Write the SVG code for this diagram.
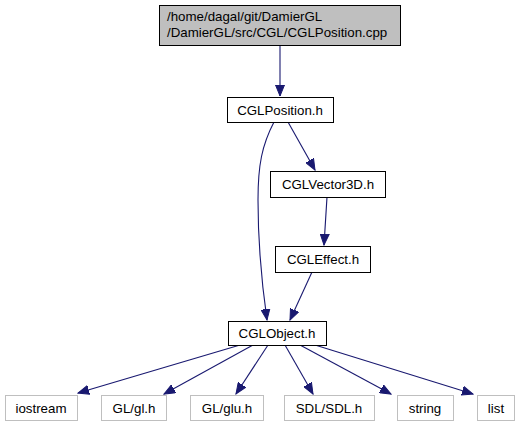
<svg xmlns="http://www.w3.org/2000/svg" width="520" height="427" viewBox="0 0 520 427">
<style>
text{font-family:"Liberation Sans",Arial,sans-serif;font-size:13.3px;fill:#000;text-anchor:middle}
.n rect{fill:#fff;stroke:#000;stroke-width:1}
.g rect{fill:#fff;stroke:#bfbfbf;stroke-width:1}
.e path{fill:none;stroke:#191970;stroke-width:1.1;marker-end:url(#a)}
</style>
<defs>
<marker id="a" markerWidth="12" markerHeight="10" refX="11" refY="5" orient="auto" markerUnits="userSpaceOnUse">
<path d="M0,0.5L11,5L0,9.5z" fill="#191970" stroke="#191970"/>
</marker>
</defs>
<rect width="520" height="427" fill="#fff"/>
<g class="e">
<path d="M280,45V96"/>
<path d="M274,122C262,145 258,165 258,200C258,245 262,285 267,320"/>
<path d="M288,122L315,170"/>
<path d="M327,197L324,245"/>
<path d="M312,272L290,320"/>
<path d="M240,345L78,393"/>
<path d="M253,345L164,394"/>
<path d="M268,345L236,394"/>
<path d="M285,345L313,394"/>
<path d="M300,345L391,394"/>
<path d="M315,345L473,394"/>
</g>
<g id="top"><rect x="159.5" y="5.5" width="241" height="40" fill="#bfbfbf" stroke="#000"/><text x="167" y="21" style="text-anchor:start">/home/dagal/git/DamierGL</text><text x="167" y="37" style="text-anchor:start">/DamierGL/src/CGL/CGLPosition.cpp</text></g>
<g id="pos" class="n"><rect x="227.5" y="97.5" width="106" height="25"/><text x="280" y="115">CGLPosition.h</text></g>
<g id="vec" class="n"><rect x="270.5" y="171.5" width="115" height="26"/><text x="328" y="189">CGLVector3D.h</text></g>
<g id="eff" class="n"><rect x="275.5" y="246.5" width="95" height="26"/><text x="323" y="264">CGLEffect.h</text></g>
<g id="obj" class="n"><rect x="228.5" y="321.5" width="98" height="24"/><text x="277" y="338">CGLObject.h</text></g>
<g id="ios" class="g"><rect x="5.5" y="395.5" width="72" height="25"/><text x="41" y="413">iostream</text></g>
<g id="gl" class="g"><rect x="101.5" y="395.5" width="65" height="25"/><text x="134" y="413">GL/gl.h</text></g>
<g id="glu" class="g"><rect x="190.5" y="395.5" width="73" height="25"/><text x="227" y="413">GL/glu.h</text></g>
<g id="sdl" class="g"><rect x="284.5" y="395.5" width="90" height="25"/><text x="329" y="413">SDL/SDL.h</text></g>
<g id="str" class="g"><rect x="397.5" y="395.5" width="56" height="25"/><text x="425" y="413">string</text></g>
<g id="lst" class="g"><rect x="477.5" y="395.5" width="37" height="25"/><text x="496" y="413">list</text></g>
</svg>
